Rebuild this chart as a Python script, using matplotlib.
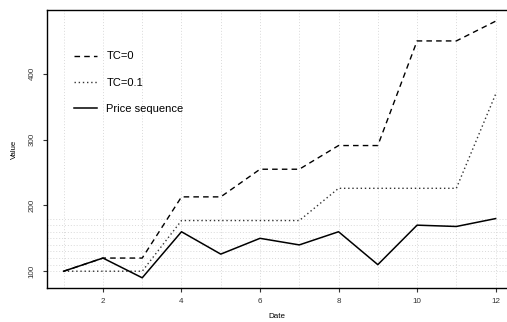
import matplotlib

matplotlib.use("Agg")

import matplotlib.pyplot as plt
import numpy as np

plt.rcParams["font.family"] = ["Liberation Sans", "DejaVu Sans"]

dates = np.arange(1, 13)
tc_zero = [100, 120, 120, 213, 213, 255, 255, 291, 291, 450, 450, 480]
tc_point_one = [100, 100, 100, 177, 177, 177, 177, 226, 226, 226, 226, 369]
price = [100, 120, 90, 160, 126, 150, 140, 160, 110, 170, 168, 180]
x_ticks = [2, 4, 6, 8, 10, 12]
y_ticks = [100, 200, 300, 400]
y_grid = np.arange(100, 181, 10)

fig = plt.figure(figsize=(5.07, 3.22), dpi=100)
ax = fig.add_axes([47 / 507, 34 / 322, 460 / 507, 278 / 322])

grid_style = dict(color="#d9d9d9", linestyle=(0, (1, 2)), linewidth=0.7, zorder=0)
for x in dates:
    ax.axvline(x, **grid_style)
for y in y_grid:
    ax.axhline(y, **grid_style)

ax.plot(dates, tc_zero, color="black", linestyle=(0, (4, 3)), linewidth=1.0, label="TC=0")
ax.plot(dates, tc_point_one, color="#333333", linestyle=(0, (1, 2)), linewidth=1.0, label="TC=0.1")
ax.plot(dates, price, color="black", linestyle="-", linewidth=1.1, label="Price sequence")

ax.set_xlim(0.575, 12.29)
ax.set_ylim(74.5, 497)
ax.set_xticks(x_ticks)
ax.set_yticks(y_ticks)
ax.tick_params(direction="out", length=3, width=0.8, labelsize=5.8, colors="#333333")
ax.tick_params(axis="x", pad=4.0)
ax.tick_params(axis="y", pad=5.0)
for label in ax.get_yticklabels():
    label.set_rotation(90)
    label.set_va("center")

for side in ["left", "bottom", "top"]:
    ax.spines[side].set_linewidth(1.0)
ax.spines["right"].set_visible(False)

ax.set_xlabel("Date", fontsize=5.8, labelpad=6)
ax.set_ylabel("Value", fontsize=5.6, labelpad=8)

ax.legend(
    loc="upper left",
    bbox_to_anchor=(0.059, 0.851),
    frameon=False,
    fontsize=8,
    handlelength=2.1,
    handletextpad=0.8,
    labelspacing=1.45,
    borderaxespad=0,
    borderpad=0,
)

fig.savefig("out.png", dpi=100)
